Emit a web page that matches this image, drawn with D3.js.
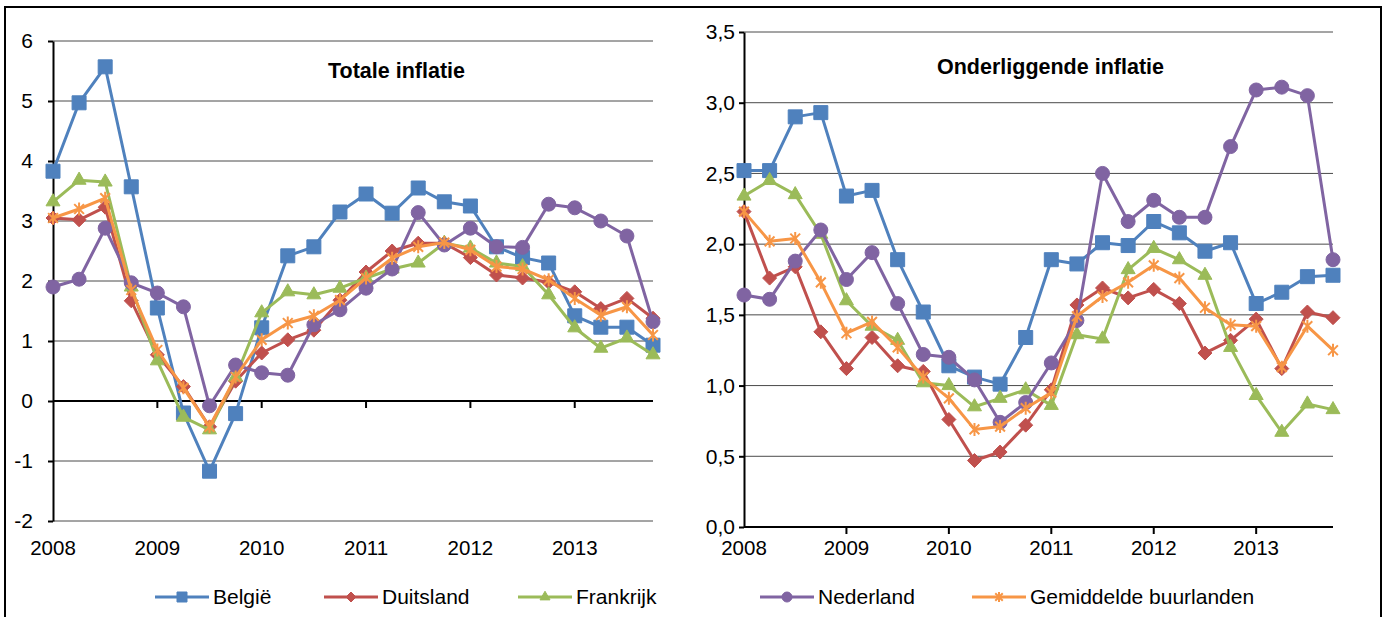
<!DOCTYPE html>
<meta charset="utf-8">
<style>
body { margin: 0; background: #fff; }
text { font-family: "Liberation Sans", Arial, sans-serif; fill: #000; }
.grid line { stroke: #4a4a4a; stroke-width: 1; }
.axis path, .axis line { stroke: #000; stroke-width: 2; }
</style>
<body>
<script src="https://d3js.org/d3.v7.min.js"></script>
<script>

// quarters 2008Q1 .. 2013Q4
var quarters = ["2008Q1","2008Q2","2008Q3","2008Q4","2009Q1","2009Q2","2009Q3","2009Q4",
                "2010Q1","2010Q2","2010Q3","2010Q4","2011Q1","2011Q2","2011Q3","2011Q4",
                "2012Q1","2012Q2","2012Q3","2012Q4","2013Q1","2013Q2","2013Q3","2013Q4"];
var years = ["2008","2009","2010","2011","2012","2013"];

// totale inflatie
var totBelgie     = [3.83,4.97,5.57,3.57,1.55,-0.2,-1.17,-0.21,1.22,2.42,2.57,3.15,3.45,3.13,3.55,3.32,3.25,2.57,2.39,2.30,1.42,1.23,1.23,0.93];
var totDuitsland  = [3.05,3.02,3.23,1.67,0.77,0.24,-0.43,0.33,0.8,1.02,1.18,1.68,2.15,2.5,2.63,2.63,2.39,2.1,2.05,1.98,1.82,1.54,1.71,1.38];
var totFrankrijk  = [3.32,3.68,3.65,1.9,0.67,-0.27,-0.48,0.4,1.47,1.82,1.77,1.88,2.05,2.2,2.3,2.63,2.55,2.3,2.24,1.77,1.22,0.88,1.05,0.77];
var totNederland  = [1.9,2.03,2.88,1.97,1.8,1.57,-0.08,0.6,0.47,0.43,1.27,1.52,1.88,2.2,3.14,2.6,2.88,2.57,2.56,3.28,3.22,3.0,2.75,1.32];
var totGemiddeld  = [3.05,3.2,3.38,1.85,0.85,0.22,-0.43,0.4,1.02,1.3,1.42,1.68,2.05,2.38,2.57,2.64,2.52,2.24,2.2,2.02,1.71,1.43,1.57,1.1];

// onderliggende inflatie
var ondBelgie     = [2.52,2.52,2.9,2.93,2.34,2.38,1.89,1.52,1.14,1.06,1.01,1.34,1.89,1.86,2.01,1.99,2.16,2.08,1.95,2.01,1.58,1.66,1.77,1.78];
var ondDuitsland  = [2.23,1.76,1.84,1.38,1.12,1.34,1.14,1.1,0.76,0.47,0.53,0.72,0.97,1.57,1.69,1.62,1.68,1.58,1.23,1.32,1.47,1.12,1.52,1.48];
var ondFrankrijk  = [2.34,2.45,2.35,2.07,1.6,1.42,1.32,1.02,1.0,0.85,0.91,0.97,0.86,1.36,1.33,1.82,1.97,1.89,1.78,1.27,0.93,0.67,0.87,0.83];
var ondNederland  = [1.64,1.61,1.88,2.1,1.75,1.94,1.58,1.22,1.2,1.04,0.74,0.88,1.16,1.46,2.5,2.16,2.31,2.19,2.19,2.69,3.09,3.11,3.05,1.89];
var ondGemiddeld  = [2.23,2.02,2.04,1.73,1.37,1.45,1.27,1.06,0.91,0.69,0.71,0.84,0.95,1.49,1.63,1.73,1.85,1.76,1.55,1.43,1.42,1.13,1.42,1.25];

var seriesNames  = ["België","Duitsland","Frankrijk","Nederland","Gemiddelde buurlanden"];
var seriesColors = ["#4F81BD","#C0504D","#9BBB59","#8064A2","#F79646"];
var seriesMarks  = ["square","diamond","triangle","circle","star"];

var svg = d3.select("body").append("svg")
    .attr("width", 1387)
    .attr("height", 617);

// outer frame
svg.append("rect")
    .attr("x", 5).attr("y", 7)
    .attr("width", 1376).attr("height", 640)
    .attr("fill", "none").attr("stroke", "#000").attr("stroke-width", 2);

function markerPath(kind, s) {
    if (kind == "square") return d3.symbol(d3.symbolSquare, s * s)();
    if (kind == "circle") return d3.symbol(d3.symbolCircle, Math.PI * s * s / 4)();
    if (kind == "triangle") return d3.symbol(d3.symbolTriangle, Math.sqrt(3) / 4 * s * s)();
    if (kind == "diamond") {
        var h = s / 2;
        return "M0," + (-h) + "L" + h + ",0L0," + h + "L" + (-h) + ",0Z";
    }
    // star: x plus vertical bar
    var r = s / 2, q = r * 0.75;
    return "M" + (-q) + "," + (-q) + "L" + q + "," + q +
           "M" + (-q) + "," + q + "L" + q + "," + (-q) +
           "M0," + (-r) + "L0," + r;
}

function drawMarker(g, kind, color, s) {
    var p = g.append("path").attr("d", markerPath(kind, s));
    if (kind == "star") {
        p.attr("fill", "none").attr("stroke", color).attr("stroke-width", 2);
    } else {
        p.attr("fill", color).attr("stroke", color).attr("stroke-width", 1);
    }
    return p;
}

function panel(cfg) {
    var g = svg.append("g");

    var x = d3.scalePoint().domain(quarters).range([cfg.left, cfg.right]);
    var y = d3.scaleLinear().domain(cfg.domain).range([cfg.bottom, cfg.top]);

    // gridlines
    g.append("g").attr("class", "grid")
        .selectAll("line").data(cfg.ticks).enter().append("line")
        .attr("x1", cfg.left).attr("x2", cfg.right)
        .attr("y1", function (d) { return y(d); })
        .attr("y2", function (d) { return y(d); });

    // y axis
    var ya = g.append("g").attr("class", "axis")
        .attr("transform", "translate(" + cfg.left + ",0)")
        .call(d3.axisLeft(y).tickValues(cfg.ticks).tickSize(5)
            .tickPadding(cfg.pad).tickSizeOuter(0).tickFormat(cfg.fmt));
    ya.selectAll("text").style("font-size", "21px")
        .style("font-family", '"Liberation Sans", Arial, sans-serif');

    // x axis line at zero with year ticks
    var y0 = y(0);
    g.append("line")
        .attr("x1", cfg.left).attr("x2", cfg.right)
        .attr("y1", y0).attr("y2", y0)
        .attr("stroke", "#000").attr("stroke-width", 2);
    g.selectAll(".xtick").data(years.slice(1)).enter().append("line")
        .attr("x1", function (d) { return x(d + "Q1"); })
        .attr("x2", function (d) { return x(d + "Q1"); })
        .attr("y1", y0).attr("y2", y0 + 7)
        .attr("stroke", "#000").attr("stroke-width", 2);

    // year labels along the bottom
    g.selectAll(".yr").data(years).enter().append("text")
        .attr("x", function (d) { return x(d + "Q1"); })
        .attr("y", 548).attr("dy", "0.35em")
        .attr("text-anchor", "middle")
        .style("font-size", "20.5px")
        .text(function (d) { return d; });

    // title
    g.append("text")
        .attr("x", cfg.titleX).attr("y", cfg.titleY)
        .style("font-size", "21.5px").style("font-weight", "bold")
        .text(cfg.title);

    var line = d3.line()
        .x(function (d, i) { return x(quarters[i]); })
        .y(function (d) { return y(d); });

    cfg.data.forEach(function (vals, k) {
        g.append("path")
            .attr("d", line(vals))
            .attr("fill", "none")
            .attr("stroke", seriesColors[k])
            .attr("stroke-width", 3)
            .attr("stroke-linejoin", "round");
        var mg = g.append("g");
        vals.forEach(function (v, i) {
            var m = mg.append("g").attr("transform", "translate(" + x(quarters[i]) + "," + y(v) + ")");
            drawMarker(m, seriesMarks[k], seriesColors[k], seriesMarks[k] == "star" ? 13 : 14);
        });
    });
}

panel({
    left: 53, right: 653, top: 41, bottom: 521,
    domain: [-2, 6], ticks: d3.range(-2, 7), pad: 15,
    fmt: function (d) { return String(d); },
    title: "Totale inflatie", titleX: 328, titleY: 78,
    data: [totBelgie, totDuitsland, totFrankrijk, totNederland, totGemiddeld]
});

panel({
    left: 744, right: 1333, top: 32, bottom: 527,
    domain: [0, 3.5], ticks: [0, 0.5, 1, 1.5, 2, 2.5, 3, 3.5], pad: 4,
    fmt: function (d) { return d3.format(".1f")(d).replace(".", ","); },
    title: "Onderliggende inflatie", titleX: 937, titleY: 74,
    data: [ondBelgie, ondDuitsland, ondFrankrijk, ondNederland, ondGemiddeld]
});

// legend
var legendPos = [155, 324, 518, 760, 972];
seriesNames.forEach(function (name, k) {
    var lg = svg.append("g").attr("transform", "translate(" + legendPos[k] + ",597)");
    lg.append("line").attr("x1", 0).attr("x2", 54)
        .attr("stroke", seriesColors[k]).attr("stroke-width", 3);
    var m = lg.append("g").attr("transform", "translate(27,0)");
    drawMarker(m, seriesMarks[k], seriesColors[k], 10);
    lg.append("text").attr("x", 58).attr("dy", "0.35em")
        .style("font-size", "21px")
        .text(name);
});

</script>
</body>
